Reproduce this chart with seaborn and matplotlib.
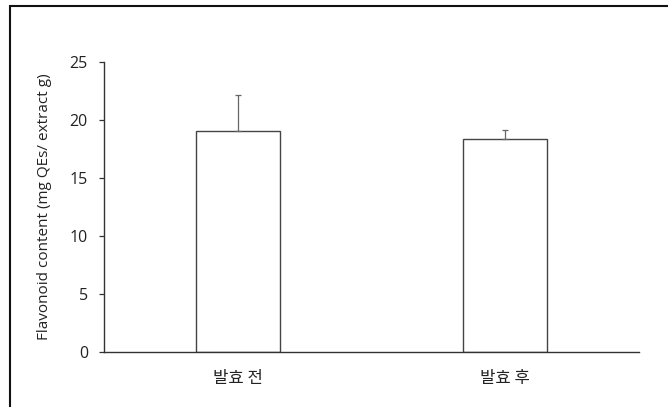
import matplotlib
matplotlib.use("Agg")
import matplotlib.pyplot as plt
import seaborn as sns
import numpy as np
import pandas as pd
from matplotlib.patches import Rectangle

categories = ["발효 전", "발효 후"]
values = [19.05, 18.35]
errors = [3.1, 0.75]
yticks = [0, 5, 10, 15, 20, 25]
ylabel = "Flavonoid content (mg QEs/ extract g)"

sns.set_style("white")
plt.rcParams['font.family'] = ['Open Sans', 'Noto Sans CJK KR', 'DejaVu Sans']

fig = plt.figure(figsize=(6.68, 4.07), dpi=100)
ax = fig.add_axes([104/668, 1-352/407, (639-104)/668, (352-62)/407])

df = pd.DataFrame({"cat": categories, "val": values})
sns.barplot(data=df, x="cat", y="val", ax=ax, color="white", edgecolor="#444444",
            linewidth=1.0, width=0.315, errorbar=None)
ax.errorbar(x=np.arange(len(values)), y=values,
            yerr=[np.zeros(len(errors)), errors], fmt='none',
            ecolor="#666666", elinewidth=0.9, capsize=2.5, capthick=0.9)

ax.set_xlim(-0.5, 1.5)
ax.set_ylim(0, 25)
ax.set_yticks(yticks)
ax.set_ylabel(ylabel, fontsize=11, color="#222222")
ax.set_xlabel("")
for s in ["top", "right"]:
    ax.spines[s].set_visible(False)
for s in ["left", "bottom"]:
    ax.spines[s].set_color("#333333")
    ax.spines[s].set_linewidth(1.0)
ax.tick_params(axis='y', direction='out', length=3.6, width=0.9, color="#333333",
               pad=8, labelsize=11.5, labelcolor="#222222", left=True)
ax.tick_params(axis='x', length=0, pad=13, labelsize=12, labelcolor="#222222")
ax.yaxis.set_label_coords((52-104)/535, 0.5)
for lbl in ax.get_xticklabels():
    lbl.set_family(['Noto Sans CJK KR', 'DejaVu Sans'])

fig.patches.append(Rectangle((9.5/668, -0.1), 1.2, 1.1 - 6.5/407, transform=fig.transFigure,
                             fill=False, edgecolor="#111111", linewidth=1.5))

fig.savefig("out.png", dpi=100)
